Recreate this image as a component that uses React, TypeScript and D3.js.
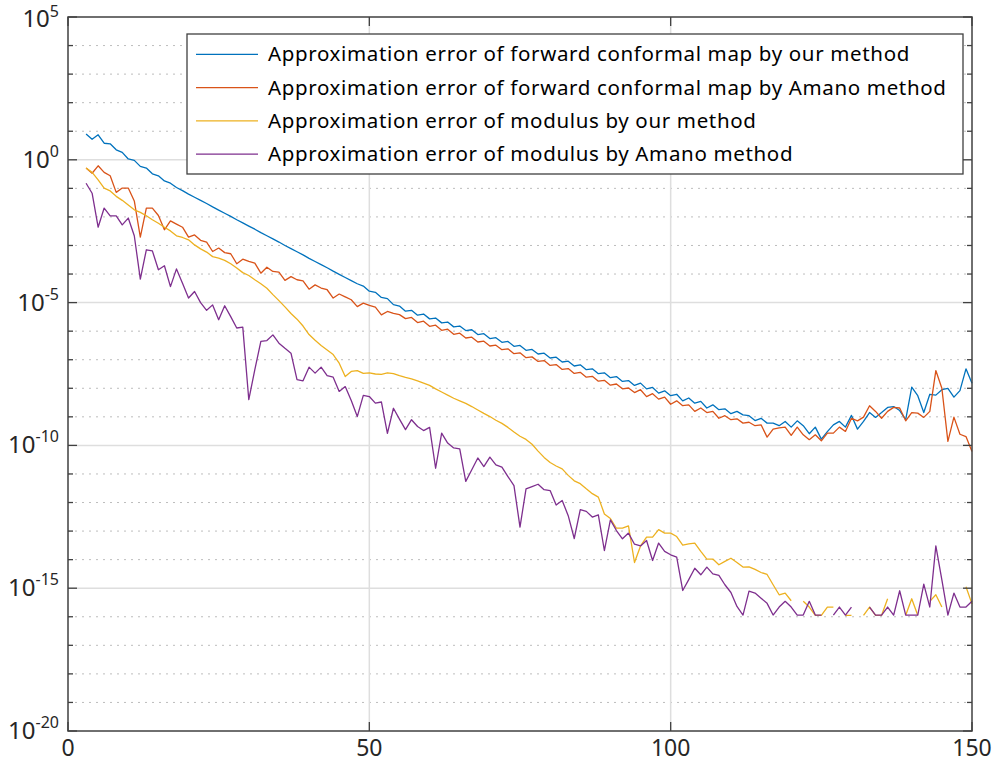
import React from "react";
import * as d3 from "d3";

// iteration numbers on the x axis
const nValues = d3.range(3, 151);

// log10 of the errors, null = zero (not drawn on log axis)
const fwdOurLog = [
  0.9, 0.72, 0.875, 0.58, 0.56, 0.35, 0.26, 0.03, -0.02, -0.23, -0.29, -0.49, -0.56, -0.74, -0.82, -0.97,
  -1.08, -1.2, -1.31, -1.42, -1.53, -1.65, -1.76, -1.87, -1.98, -2.1, -2.21, -2.32,
  -2.43, -2.55, -2.66, -2.77, -2.88, -3.0, -3.11, -3.22, -3.33, -3.45, -3.56, -3.67, -3.78, -3.9, -4.01, -4.12, -4.23, -4.34,
  -4.42, -4.6, -4.64, -4.82, -4.86, -5.07, -5.12,
  -5.3, -5.27, -5.44, -5.4, -5.57, -5.54, -5.71, -5.68, -5.85, -5.82, -5.98, -5.95, -6.12, -6.09, -6.26, -6.23, -6.39, -6.36, -6.53, -6.5,
  -6.67, -6.64, -6.8, -6.77, -6.94, -6.91, -7.08, -7.05, -7.22, -7.18, -7.35, -7.32, -7.49, -7.46, -7.63, -7.59, -7.76, -7.73, -7.9,
  -7.82, -8.02, -7.97, -8.17, -8.09, -8.26, -8.21, -8.44, -8.34, -8.52, -8.46, -8.69, -8.58, -8.75, -8.72, -8.89, -8.81, -8.93, -8.96,
  -9.13, -9.05, -9.22, -9.22, -9.31, -9.16, -9.36, -9.14, -9.31, -9.59, -9.36, -9.78, -9.52, -9.28, -9.16, -9.36, -8.95, -9.43, -9.16,
  -8.85, -9.02, -8.85, -8.67, -8.64, -8.78, -9.1, -7.96, -8.26, -8.85, -8.21, -8.24, -8.05, -8.0, -8.31, -8.08, -7.32, -7.82,
];

const fwdAmanoLog = [
  -0.29, -0.47, -0.21, -0.44, -0.56, -1.14, -0.99, -0.99, -1.44, -2.71, -1.69, -1.69, -1.95, -2.45, -2.14, -2.25, -2.36, -2.71, -2.63,
  -2.82, -2.88, -3.21, -3.09, -3.25, -3.29, -3.64, -3.48, -3.56,
  -3.62, -3.97, -3.76, -3.91, -3.93, -4.22, -4.09, -4.2, -4.24, -4.53, -4.38, -4.49, -4.55, -4.84, -4.7, -4.8, -4.9, -5.14, -5.02,
  -5.1, -5.16, -5.43, -5.31, -5.38, -5.42,
  -5.56, -5.52, -5.7, -5.65, -5.83, -5.79, -5.97, -5.93, -6.11, -6.07, -6.24, -6.21, -6.38, -6.35, -6.52, -6.49, -6.65, -6.62, -6.79,
  -6.76, -6.93, -6.9, -7.06, -7.03, -7.2, -7.17, -7.34, -7.31, -7.48, -7.44, -7.61, -7.58, -7.75, -7.72, -7.89, -7.85, -8.02, -7.99, -8.15,
  -8.05, -8.29, -8.19, -8.38, -8.31, -8.56, -8.44, -8.61, -8.58, -8.81, -8.69, -8.85, -8.81, -9.05, -8.96, -9.1, -9.07, -9.22, -9.19,
  -9.31, -9.28, -9.71, -9.43, -9.39, -9.36, -9.65, -9.36, -9.63, -9.8, -9.63, -9.84, -9.57, -9.57, -9.36, -9.51, -9.05, -9.14, -9.01,
  -8.61, -8.81, -9.05, -8.81, -8.67, -8.69, -9.14, -8.85, -8.87, -9.02, -8.81, -7.38, -8.0, -9.86, -9.01, -9.61, -9.69, -10.21,
];

const modOurLog = [
  -0.29, -0.44, -0.7, -0.99, -1.09, -1.28, -1.42, -1.58, -1.75, -1.84, -1.96, -2.1, -2.22, -2.36, -2.49, -2.66, -2.72, -2.8, -2.98,
  -3.12, -3.23, -3.39, -3.44, -3.52, -3.64, -3.79, -3.95, -4.05,
  -4.2, -4.34, -4.5, -4.72, -4.93, -5.15, -5.38, -5.58, -5.82, -6.12, -6.32, -6.5, -6.66, -6.82, -7.12, -7.59, -7.41, -7.38, -7.48,
  -7.46, -7.5, -7.51, -7.46, -7.49, -7.56,
  -7.62, -7.67, -7.74, -7.82, -7.9, -8.02, -8.13, -8.24, -8.35, -8.44, -8.53, -8.64, -8.76, -8.88, -8.99, -9.12, -9.23, -9.37, -9.53,
  -9.68, -9.79, -9.96, -10.2, -10.42, -10.6, -10.72, -10.82, -11.05, -11.24, -11.34, -11.52, -11.69, -11.81, -12.4, -12.56, -12.9,
  -12.9, -12.82, -14.1,
  -13.52, -13.21, -13.21, -12.95, -13.07, -13.07, -13.19, -13.49, -13.45, -13.42, -13.71, -13.98, -13.98, -14.18, -14.06, -13.95,
  -14.1, -14.26, -14.25, -14.34, -14.45, -14.52, -14.88, -15.23, -15.17, -15.44,
  null, -15.46, -15.66, -15.95, -15.95, -15.66, -15.66, null, -15.95, -15.95, null, -15.95, -15.66, -15.95, -15.95, -15.37, null, null,
  -15.95, -15.37, -15.95, null, -15.46, -15.23, -15.66, null, null, null, -14.95, -15.55,
];

const modAmanoLog = [
  -0.82, -1.17, -2.36, -1.69, -1.96, -1.96, -2.28, -2.04, -2.66, -4.18, -3.15, -3.19, -3.85, -3.71, -4.44, -3.82, -4.32, -4.84, -4.61,
  -5.0, -5.27, -5.08, -5.6, -5.11, -5.49, -5.89, -5.86, -8.4,
  -7.35, -6.36, -6.33, -6.13, -6.42, -6.6, -6.77, -7.7, -7.74, -7.26, -7.47, -7.26, -7.56, -7.61, -8.11, -7.94, -8.43, -8.99, -8.25,
  -8.29, -8.52, -8.48, -9.58, -8.7, -9.08,
  -9.45, -9.1, -9.34, -9.48, -9.37, -10.8, -9.57, -9.92, -10.09, -10.12, -11.26, -10.85, -10.44, -10.74, -10.41, -10.68, -10.76, -11.09,
  -11.41, -12.86, -11.52, -11.44, -11.36, -11.55, -11.58, -12.09, -11.93, -12.46, -13.26, -12.25, -12.31, -12.51, -12.43, -13.68,
  -12.61, -12.98, -13.27, -13.07, -13.46,
  -13.52, -13.33, -14.03, -13.42, -13.71, -13.83, -13.91, -15.08, -14.7, -14.3, -14.53, -14.26, -14.5, -14.55, -14.88, -15.15, -15.64,
  -15.94, -15.1, -15.17, -15.35, -15.53, -15.94, -15.66, -15.46, -15.66,
  -15.94, -15.94, -15.46, -15.94, -15.94, null, -15.94, -15.66, -15.94, -15.66, null, null, -15.66, -15.94, -15.94, -15.66, -15.94,
  -15.09, -15.94, -15.94, -15.94, -14.86, -15.66, -13.52, -14.71, -15.94, -15.17, -15.66, -15.66, -15.46,
];

const seriesNames = [
  "Approximation error of forward conformal map by our method",
  "Approximation error of forward conformal map by Amano method",
  "Approximation error of modulus by our method",
  "Approximation error of modulus by Amano method",
];
const seriesColors = ["#0072BD", "#D95319", "#EDB120", "#7E2F8E"];
const seriesLogs = [fwdOurLog, fwdAmanoLog, modOurLog, modAmanoLog];

const xTicks = [0, 50, 100, 150];
const yLabelExps = [5, 0, -5, -10, -15, -20];
const yDecades = d3.range(-20, 6);

const W = 994;
const H = 763;
const left = 68, right = 972, top = 17, bottom = 731;
const font = "'Noto Sans', 'Open Sans', sans-serif";
const axisColor = "#404040";

export default function App() {
  const x = d3.scaleLinear().domain([0, 150]).range([left, right]);
  const y = d3.scaleLog().domain([1e-20, 1e5]).range([bottom, top]);

  const line = d3
    .line<{ n: number; v: number | null }>()
    .defined((d) => d.v !== null)
    .x((d) => x(d.n))
    .y((d) => y(Math.pow(10, d.v as number)));

  return (
    <svg width={W} height={H} style={{ position: "absolute", left: 0, top: 0, background: "#fff" }}>
      {/* grid */}
      {yDecades.map((e) => {
        const yy = y(Math.pow(10, e));
        if (e === 5 || e === -20) return null;
        const major = e % 5 === 0;
        return (
          <line
            key={"g" + e}
            x1={left}
            x2={right}
            y1={yy}
            y2={yy}
            stroke={major ? "#dedede" : "#bdbdbd"}
            strokeWidth={major ? 1.5 : 1}
            strokeDasharray={major ? undefined : "2 5"}
          />
        );
      })}
      {xTicks.slice(1, -1).map((t) => (
        <line key={"gx" + t} x1={x(t)} x2={x(t)} y1={top} y2={bottom} stroke="#dedede" strokeWidth={1.5} />
      ))}

      {/* series */}
      {seriesLogs.map((arr, i) => (
        <path
          key={"s" + i}
          d={line(nValues.map((n, k) => ({ n, v: arr[k] ?? null }))) || ""}
          fill="none"
          stroke={seriesColors[i]}
          strokeWidth={1.3}
          strokeLinejoin="round"
        />
      ))}

      {/* axes box */}
      <rect x={left} y={top} width={right - left} height={bottom - top} fill="none" stroke={axisColor} strokeWidth={1.5} />
      {yDecades.map((e) => {
        const yy = y(Math.pow(10, e));
        const len = e % 5 === 0 ? 9 : 5;
        return (
          <g key={"t" + e}>
            <line x1={left} x2={left + len} y1={yy} y2={yy} stroke={axisColor} strokeWidth={1.3} />
            <line x1={right} x2={right - len} y1={yy} y2={yy} stroke={axisColor} strokeWidth={1.3} />
          </g>
        );
      })}
      {xTicks.map((t) => (
        <g key={"xt" + t}>
          <line x1={x(t)} x2={x(t)} y1={bottom} y2={bottom - 9} stroke={axisColor} strokeWidth={1.3} />
          <line x1={x(t)} x2={x(t)} y1={top} y2={top + 9} stroke={axisColor} strokeWidth={1.3} />
          <text x={x(t)} y={756} textAnchor="middle" fontFamily={font} fontSize={23} fill="#262626">
            {t}
          </text>
        </g>
      ))}
      {yLabelExps.map((e) => {
        const yy = y(Math.pow(10, e));
        const isTop = e === 5;
        return (
          <text
            key={"yl" + e}
            x={59}
            y={yy + (isTop ? 10 : 8)}
            textAnchor="end"
            fontFamily={font}
            fontSize={24}
            fill="#262626"
          >
            10
            <tspan dy={isTop ? -10 : -11} fontSize={16}>
              {e}
            </tspan>
          </text>
        );
      })}

      {/* legend */}
      <rect x={187} y={34} width={776} height={140} fill="#fff" stroke={axisColor} strokeWidth={1.3} />
      {seriesNames.map((name, i) => {
        const ry = 54.3 + i * 33.3;
        return (
          <g key={"l" + i}>
            <line x1={196} x2={258} y1={ry} y2={ry} stroke={seriesColors[i]} strokeWidth={1.3} />
            <text x={268} y={ry + 7} fontFamily={font} fontSize={20.5} letterSpacing={0.65} fill="#000">
              {name}
            </text>
          </g>
        );
      })}
    </svg>
  );
}
